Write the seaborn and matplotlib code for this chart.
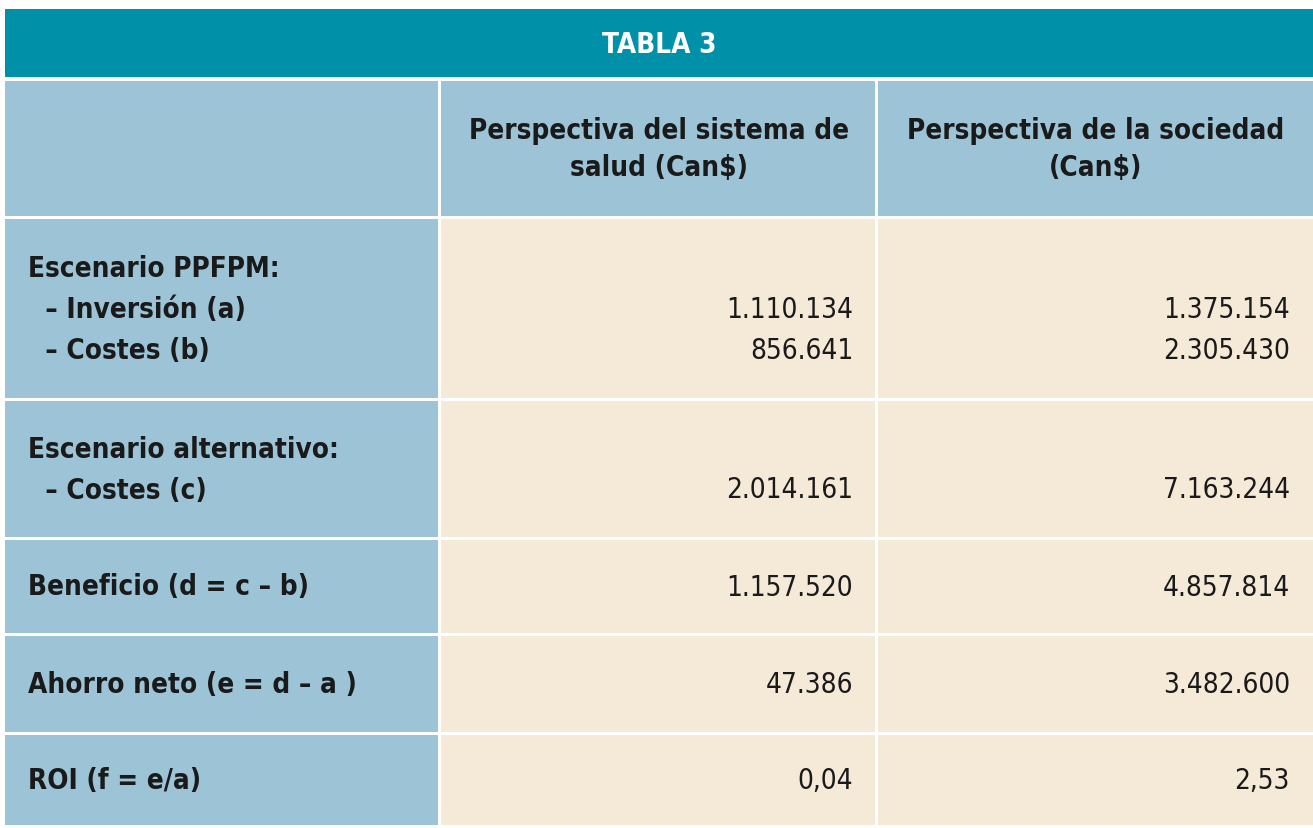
import matplotlib
matplotlib.use("Agg")
import matplotlib.pyplot as plt
import seaborn as sns
from matplotlib.patches import Rectangle

sns.set_theme(style="white")
plt.rcParams['font.family'] = ['DejaVu Sans']

title = "TABLA 3"
col_headers = ["Perspectiva del sistema de\nsalud (Can$)", "Perspectiva de la sociedad\n(Can$)"]
row_labels = [
    ["Escenario PPFPM:", "  – Inversión (a)", "  – Costes (b)"],
    ["Escenario alternativo:", "  – Costes (c)"],
    ["Beneficio (d = c – b)"],
    ["Ahorro neto (e = d – a )"],
    ["ROI (f = e/a)"],
]
salud = [["", "1.110.134", "856.641"], ["", "2.014.161"], ["1.157.520"], ["47.386"], ["0,04"]]
sociedad = [["", "1.375.154", "2.305.430"], ["", "7.163.244"], ["4.857.814"], ["3.482.600"], ["2,53"]]

TEAL = "#0091a9"
BLUE = "#9cc4d6"
BEIGE = "#f5e9d7"
TXT = "#1a1a1a"

col_x = [5, 441, 878, 1313]
row_y = [82, 220, 402, 541, 637, 736, 829]
gap = 3

fig = plt.figure(figsize=(13.13, 8.29), dpi=100)
ax = fig.add_axes([0, 0, 1, 1])
ax.set_xlim(0, 1313)
ax.set_ylim(829, 0)
ax.axis("off")

ax.add_patch(Rectangle((5, 10), 1308, 68, color=TEAL, lw=0))
ax.text(659, 45, title, color="white", fontsize=20, fontweight="bold",
        fontstretch="condensed", ha="center", va="center")

font = dict(fontsize=20, fontweight="bold", fontstretch="condensed", color=TXT)
vfont = dict(fontsize=20, fontstretch="condensed", color=TXT)

for r in range(len(row_y) - 1):
    y0, y1 = row_y[r], row_y[r + 1] - gap
    for c in range(3):
        x0, x1 = col_x[c], col_x[c + 1] - (gap if c < 2 else 0)
        color = BLUE if (r == 0 or c == 0) else BEIGE
        ax.add_patch(Rectangle((x0, y0), x1 - x0, y1 - y0, color=color, lw=0))
    if r == 0:
        for c, h in enumerate(col_headers):
            ax.text((col_x[c + 1] + col_x[c + 2]) / 2, (y0 + y1) / 2, h, ha="center",
                    va="center", linespacing=1.45, **font)
        continue
    lines = row_labels[r - 1]
    n = len(lines)
    step = 41
    cy = (y0 + y1) / 2
    for i, line in enumerate(lines):
        y = cy + (i - (n - 1) / 2) * step
        ax.text(28, y, line, ha="left", va="center", **font)
        ax.text(853, y, salud[r - 1][i], ha="right", va="center", **vfont)
        ax.text(1290, y, sociedad[r - 1][i], ha="right", va="center", **vfont)

fig.savefig("out.png", dpi=100, facecolor="white")
